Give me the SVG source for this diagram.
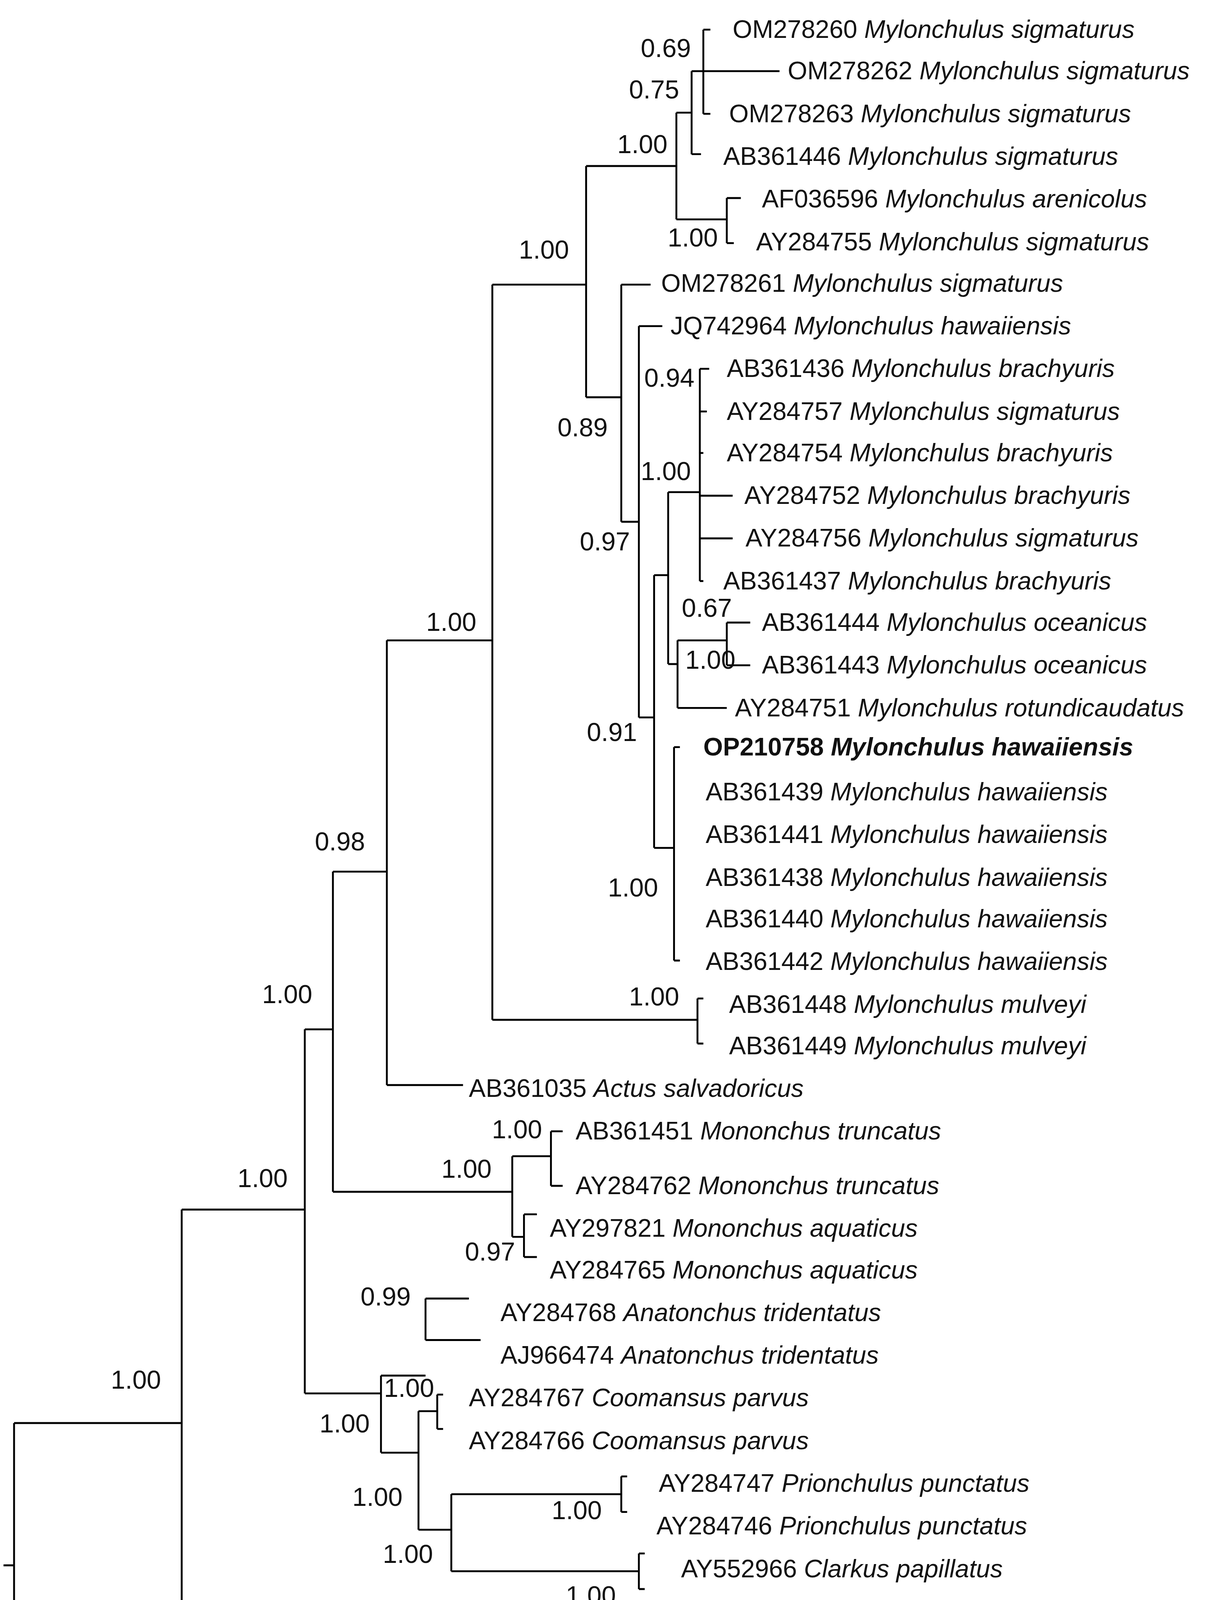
<svg xmlns="http://www.w3.org/2000/svg" width="3136" height="4742" viewBox="0 0 3136 4742">
<style>
.b{stroke:#000;stroke-width:1.6;fill:none}
.t{font-family:"Liberation Sans",Arial,sans-serif;font-size:21.5px;fill:#111}
.s{font-family:"Liberation Sans",Arial,sans-serif;font-size:22px;fill:#111;text-anchor:middle}
.i{font-style:italic}
</style>
<rect width="3136" height="4742" fill="#fff"/>
<g transform="scale(3.0009,3.0358)">
<g id="connectors" class="b">
<path d="M3 1320H12M12 1200V1435M12 1200H155M12 1435H155M155 1425V1445M155 1425H160M155 1445H160"/>
<path d="M155 1020V1380M155 1020H260M155 1380H232"/>
<path d="M260 868V1175M260 868H284M260 1175H325"/>
<path d="M284 735V1005M284 735H330M284 1005H437"/>
<path d="M330 540V915M330 540H420M330 915H395"/>
<path d="M420 240V860M420 240H500M420 860H595M595 842V880M595 842H600M595 880H600"/>
<path d="M500 140V335M500 140H577M500 335H530"/>
<path d="M577 95V185M577 95H590M577 185H620M620 167V205M620 167H632M620 205H626"/>
<path d="M590 60V130M590 60H600M590 130H598M600 25V96M600 25H606M600 60H665M600 96H606"/>
<path d="M530 240V440M530 240H555M530 440H545"/>
<path d="M545 275V605M545 275H565M545 605H558"/>
<path d="M558 485V715M558 485H570M558 715H575"/>
<path d="M570 415V560M570 415H597M570 560H578"/>
<path d="M597 311V490M597 311H605M597 347H603M597 382H600M597 418H625M597 454H625M597 490H600"/>
<path d="M578 540V597M578 540H620M578 597H620M620 525V561M620 525H640M620 561H640"/>
<path d="M575 630V810M575 630H580M575 810H580"/>
<path d="M437 975V1043M437 975H470M437 1043H447M470 954V1000M470 954H480M470 1000H480M447 1024V1060M447 1024H458M447 1060H458"/>
<path d="M325 1160V1225M325 1160H363M325 1225H357M363 1095V1130M363 1095H400M363 1130H410"/>
<path d="M357 1190V1290M357 1190H373M357 1290H385M373 1176V1205M373 1176H378M373 1205H378"/>
<path d="M385 1260V1325M385 1260H530M385 1325H545M530 1245V1275M530 1245H535M530 1275H535M545 1310V1340M545 1310H550M545 1340H550"/>
<path d="M280 1527H380"/>
</g>
<g id="labels" class="t">
<text x="625" y="32">OM278260 <tspan class="i">Mylonchulus sigmaturus</tspan></text>
<text x="672" y="67">OM278262 <tspan class="i">Mylonchulus sigmaturus</tspan></text>
<text x="622" y="103">OM278263 <tspan class="i">Mylonchulus sigmaturus</tspan></text>
<text x="617" y="139">AB361446 <tspan class="i">Mylonchulus sigmaturus</tspan></text>
<text x="650" y="175">AF036596 <tspan class="i">Mylonchulus arenicolus</tspan></text>
<text x="645" y="211">AY284755 <tspan class="i">Mylonchulus sigmaturus</tspan></text>
<text x="564" y="246">OM278261 <tspan class="i">Mylonchulus sigmaturus</tspan></text>
<text x="572" y="282">JQ742964 <tspan class="i">Mylonchulus hawaiiensis</tspan></text>
<text x="620" y="318">AB361436 <tspan class="i">Mylonchulus brachyuris</tspan></text>
<text x="620" y="354">AY284757 <tspan class="i">Mylonchulus sigmaturus</tspan></text>
<text x="620" y="389">AY284754 <tspan class="i">Mylonchulus brachyuris</tspan></text>
<text x="635" y="425">AY284752 <tspan class="i">Mylonchulus brachyuris</tspan></text>
<text x="636" y="461">AY284756 <tspan class="i">Mylonchulus sigmaturus</tspan></text>
<text x="617" y="497">AB361437 <tspan class="i">Mylonchulus brachyuris</tspan></text>
<text x="650" y="532">AB361444 <tspan class="i">Mylonchulus oceanicus</tspan></text>
<text x="650" y="568">AB361443 <tspan class="i">Mylonchulus oceanicus</tspan></text>
<text x="627" y="604">AY284751 <tspan class="i">Mylonchulus rotundicaudatus</tspan></text>
<text x="600" y="637" font-weight="bold">OP210758 <tspan class="i">Mylonchulus hawaiiensis</tspan></text>
<text x="602" y="675">AB361439 <tspan class="i">Mylonchulus hawaiiensis</tspan></text>
<text x="602" y="711">AB361441 <tspan class="i">Mylonchulus hawaiiensis</tspan></text>
<text x="602" y="747">AB361438 <tspan class="i">Mylonchulus hawaiiensis</tspan></text>
<text x="602" y="782">AB361440 <tspan class="i">Mylonchulus hawaiiensis</tspan></text>
<text x="602" y="818">AB361442 <tspan class="i">Mylonchulus hawaiiensis</tspan></text>
<text x="622" y="854">AB361448 <tspan class="i">Mylonchulus mulveyi</tspan></text>
<text x="622" y="889">AB361449 <tspan class="i">Mylonchulus mulveyi</tspan></text>
<text x="400" y="925">AB361035 <tspan class="i">Actus salvadoricus</tspan></text>
<text x="491" y="961">AB361451 <tspan class="i">Mononchus truncatus</tspan></text>
<text x="491" y="1007">AY284762 <tspan class="i">Mononchus truncatus</tspan></text>
<text x="469" y="1043">AY297821 <tspan class="i">Mononchus aquaticus</tspan></text>
<text x="469" y="1078">AY284765 <tspan class="i">Mononchus aquaticus</tspan></text>
<text x="427" y="1114">AY284768 <tspan class="i">Anatonchus tridentatus</tspan></text>
<text x="427" y="1150">AJ966474 <tspan class="i">Anatonchus tridentatus</tspan></text>
<text x="400" y="1186">AY284767 <tspan class="i">Coomansus parvus</tspan></text>
<text x="400" y="1222">AY284766 <tspan class="i">Coomansus parvus</tspan></text>
<text x="562" y="1258">AY284747 <tspan class="i">Prionchulus punctatus</tspan></text>
<text x="560" y="1294">AY284746 <tspan class="i">Prionchulus punctatus</tspan></text>
<text x="581" y="1330">AY552966 <tspan class="i">Clarkus papillatus</tspan></text>
<text x="581" y="1365">AY284748 <tspan class="i">Clarkus papillatus</tspan></text>
<text x="240" y="1400">AY593953 <tspan class="i">Granonchulus sp.</tspan></text>
<text x="187" y="1437">AY284744 <tspan class="i">Bathyodontus mirus</tspan></text>
<text x="187" y="1483">FJ969116 <tspan class="i">Bathyodontus mirus</tspan></text>
</g>
<g id="support" class="s">
<text x="568" y="48">0.69</text><text x="558" y="83">0.75</text><text x="548" y="129">1.00</text>
<text x="591" y="208">1.00</text><text x="464" y="218">1.00</text><text x="497" y="368">0.89</text>
<text x="571" y="326">0.94</text><text x="568" y="405">1.00</text><text x="516" y="464">0.97</text>
<text x="603" y="520">0.67</text><text x="606" y="564">1.00</text><text x="522" y="625">0.91</text>
<text x="540" y="756">1.00</text><text x="385" y="532">1.00</text><text x="558" y="848">1.00</text>
<text x="290" y="717">0.98</text><text x="245" y="846">1.00</text><text x="441" y="960">1.00</text>
<text x="398" y="993">1.00</text><text x="418" y="1063">0.97</text><text x="224" y="1001">1.00</text>
<text x="329" y="1101">0.99</text><text x="349" y="1178">1.00</text><text x="294" y="1208">1.00</text>
<text x="322" y="1270">1.00</text><text x="492" y="1281">1.00</text><text x="348" y="1318">1.00</text>
<text x="504" y="1353">1.00</text><text x="116" y="1171">1.00</text><text x="120" y="1421">1.00</text>
<text x="330" y="1560" style="font-size:15px">0.3</text>
</g>
</g>
</svg>
